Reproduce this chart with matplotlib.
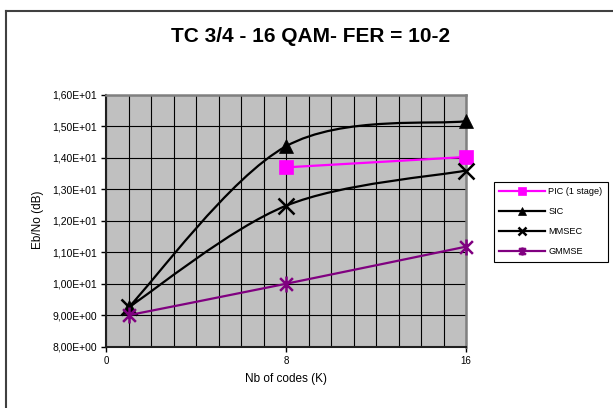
import matplotlib
matplotlib.use("Agg")
import matplotlib.pyplot as plt
from matplotlib.path import Path
from matplotlib.patches import PathPatch
from matplotlib.lines import Line2D
from matplotlib.ticker import FuncFormatter, MultipleLocator
import numpy as np

plt.rcParams['font.family'] = ['Liberation Sans', 'DejaVu Sans']

title = "TC 3/4 - 16 QAM- FER = 10-2"
x_label = "Nb of codes (K)"
y_label = "Eb/No (dB)"

pic_x = [8, 16]
pic_y = [13.7, 14.03]
sic_x = [1, 8, 16]
sic_y = [9.25, 14.37, 15.17]
mmsec_x = [1, 8, 16]
mmsec_y = [9.25, 12.48, 13.6]
gmmse_x = [1, 8, 16]
gmmse_y = [9.0, 10.0, 11.18]

series = [
    ("PIC (1 stage)", pic_x, pic_y, "#FF00FF", "s"),
    ("SIC", sic_x, sic_y, "#000000", "^"),
    ("MMSEC", mmsec_x, mmsec_y, "#000000", "x"),
    ("GMMSE", gmmse_x, gmmse_y, "#800080", "ast"),
]

ast_marker = Path([(-1, -1), (1, 1), (-1, 1), (1, -1), (0, -1.25), (0, 1.25)],
                  [Path.MOVETO, Path.LINETO, Path.MOVETO, Path.LINETO, Path.MOVETO, Path.LINETO])


def smooth_path(xs, ys):
    p = np.column_stack([xs, ys]).astype(float)
    n = len(p)
    verts = [p[0]]
    codes = [Path.MOVETO]
    for i in range(n - 1):
        p0 = p[max(i - 1, 0)]
        p1 = p[i]
        p2 = p[i + 1]
        p3 = p[min(i + 2, n - 1)]
        c1 = p1 + (p2 - p0) / 6.0
        c2 = p2 - (p3 - p1) / 6.0
        verts += [c1, c2, p2]
        codes += [Path.CURVE4] * 3
    return Path(verts, codes)


fig = plt.figure(figsize=(6.13, 4.08), dpi=100)
ax = fig.add_axes([106 / 613, 1 - 346.7 / 408, 360 / 613, 251.7 / 408])
ax.set_facecolor("#C0C0C0")
ax.set_xlim(0, 16)
ax.set_ylim(8, 16)

ax.xaxis.set_major_locator(MultipleLocator(8))
ax.xaxis.set_minor_locator(MultipleLocator(1))
ax.yaxis.set_major_locator(MultipleLocator(1))
ax.grid(which="both", axis="x", color="black", linewidth=0.8)
ax.grid(which="major", axis="y", color="black", linewidth=0.8)
ax.tick_params(axis="x", which="minor", length=0)
ax.tick_params(axis="both", which="major", direction="out", length=3.5, width=1,
               labelsize=7.5, color="black", pad=3)
ax.tick_params(axis="x", which="major", labelsize=7)
ax.yaxis.set_major_formatter(FuncFormatter(lambda v, pos: f"{v:.2E}".replace(".", ",")))
ax.set_axisbelow(True)

for s in ["left", "bottom"]:
    ax.spines[s].set_color("#202020")
    ax.spines[s].set_linewidth(1.5)
for s in ["top", "right"]:
    ax.spines[s].set_color("#808080")
    ax.spines[s].set_linewidth(1.8)

handles = []
for i, (name, xs, ys, col, mk) in enumerate(series):
    z = 3 + i
    patch = PathPatch(smooth_path(xs, ys), facecolor="none", edgecolor=col,
                      linewidth=1.6, zorder=z)
    ax.add_patch(patch)
    marker = ast_marker if mk == "ast" else mk
    if mk in ("x", "ast"):
        ax.plot(xs, ys, linestyle="none", marker=marker, markersize=11.5,
                markeredgewidth=1.8, color=col, zorder=z + 0.5, clip_on=False)
    else:
        ax.plot(xs, ys, linestyle="none", marker=marker, markersize=10,
                markeredgewidth=0.5, color=col, zorder=z + 0.5, clip_on=False)
    handles.append(Line2D([], [], color=col, linewidth=1.6, marker=marker,
                          markersize=6,
                          markeredgewidth=1.8 if mk in ("x", "ast") else 0.5,
                          label=name))

fig.text(311 / 613, 1 - 36 / 408, title, ha="center", va="center",
         fontsize=15, fontweight="bold")
fig.text(38 / 613, 1 - 220 / 408, y_label, ha="center", va="center",
         rotation=90, fontsize=8.5)
fig.text(286 / 613, 1 - 379 / 408, x_label, ha="center", va="center", fontsize=8.5)

leg = fig.legend(handles=handles, loc="upper left",
                 bbox_to_anchor=(494 / 613, 1 - 181.7 / 408),
                 fontsize=6.6, frameon=True, fancybox=False, framealpha=1,
                 edgecolor="black", handlelength=5.0, handletextpad=0.3,
                 labelspacing=1.2, borderpad=0.6, borderaxespad=0)
leg.get_frame().set_linewidth(0.8)

fig.add_artist(Line2D([6 / 613, 6 / 613], [0, 1 - 11 / 408], color="#404040",
                      linewidth=1.5, transform=fig.transFigure))
fig.add_artist(Line2D([6 / 613, 1], [1 - 11 / 408, 1 - 11 / 408], color="#404040",
                      linewidth=1.5, transform=fig.transFigure))

fig.savefig("out.png", dpi=100)
